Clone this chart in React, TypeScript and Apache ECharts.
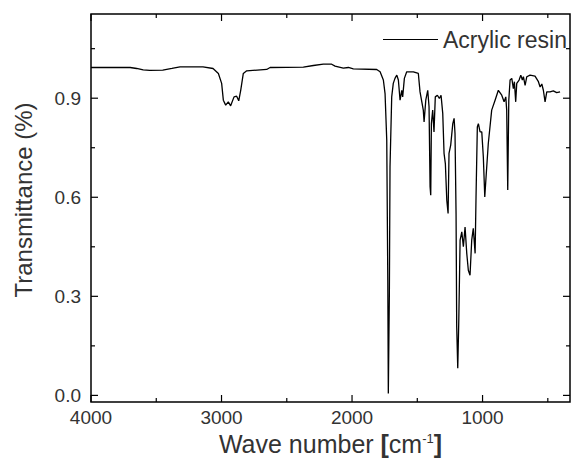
import React, { useEffect, useRef } from "react";
import * as echarts from "echarts";

const seriesName = "Acrylic resin";

const wavenumbers = [
  4000, 3700, 3650, 3600, 3550, 3450, 3380, 3318, 3142, 3065,
  3024, 2999, 2986, 2968, 2948, 2930, 2904, 2884, 2868, 2853,
  2833, 2807, 2654, 2628, 2373, 2296, 2220, 2156, 2130, 2067,
  2028, 1990, 1811, 1785, 1760, 1747, 1734, 1726, 1722, 1714,
  1709, 1696, 1684, 1671, 1657, 1645, 1632, 1619, 1612, 1599,
  1581, 1530, 1492, 1479, 1454, 1448, 1435, 1420, 1410, 1402,
  1397, 1392, 1382, 1372, 1362, 1346, 1331, 1318, 1305, 1295,
  1285, 1274, 1264, 1257, 1244, 1228, 1218, 1211, 1203, 1198,
  1190, 1182, 1172, 1159, 1147, 1134, 1121, 1109, 1096, 1083,
  1071, 1057, 1050, 1040, 1032, 1019, 1006, 994, 983, 973,
  956, 930, 904, 879, 853, 835, 822, 815, 807, 799,
  789, 776, 764, 756, 746, 738, 720, 707, 695, 687,
  674, 661, 636, 598, 572, 559, 546, 534, 521, 508,
  483, 458, 432, 406,
];

const transmittance = [
  0.993, 0.993, 0.99, 0.986, 0.984, 0.985, 0.99, 0.995, 0.995, 0.99,
  0.975, 0.945, 0.894, 0.879, 0.889, 0.877, 0.904, 0.906, 0.892, 0.924,
  0.975, 0.983, 0.987, 0.993, 0.994, 0.999, 1.003, 1.003, 0.997, 0.991,
  0.993, 0.989, 0.987, 0.98, 0.955, 0.914, 0.773, 0.349, 0.006, 0.309,
  0.692, 0.904, 0.945, 0.96, 0.97, 0.955, 0.894, 0.924, 0.904, 0.96,
  0.98, 0.98, 0.975, 0.919, 0.864, 0.828, 0.894, 0.924, 0.874, 0.632,
  0.606, 0.823, 0.864, 0.798, 0.904, 0.909, 0.899, 0.909, 0.854, 0.733,
  0.702, 0.591, 0.551, 0.733, 0.758, 0.823, 0.839, 0.793, 0.551, 0.208,
  0.082, 0.228, 0.47, 0.495, 0.45, 0.51, 0.43, 0.379, 0.364, 0.47,
  0.506, 0.43, 0.601, 0.813, 0.823, 0.798, 0.798, 0.722, 0.601, 0.662,
  0.763, 0.864, 0.894, 0.924, 0.909, 0.889, 0.904, 0.864, 0.622, 0.894,
  0.955, 0.96, 0.929, 0.95, 0.889, 0.945, 0.955, 0.97, 0.955, 0.965,
  0.939, 0.965, 0.97, 0.967, 0.95, 0.934, 0.943, 0.924, 0.889, 0.919,
  0.919, 0.922, 0.917, 0.919,
];

const xMajorTicks = [4000, 3000, 2000, 1000];
const xMinorTicks = [3500, 2500, 1500, 500];
const yMajorTicks = [0, 0.3, 0.6, 0.9];
const yMinorTicks = [0.15, 0.45, 0.75, 1.05];

const X_MIN = 330;
const X_MAX = 4000;
const Y_MIN = -0.02;
const Y_MAX = 1.155;

const MAJOR_LEN = 7;
const MINOR_LEN = 4;

const FONT = "'Liberation Sans', Arial, sans-serif";
const TEXT_COLOR = "#333";

export default function App() {
  const ref = useRef<HTMLDivElement>(null);

  useEffect(() => {
    if (!ref.current) return;
    const chart = echarts.init(ref.current, undefined, { renderer: "svg" });
    const data = wavenumbers.map((w, i) => [w, transmittance[i]]);

    chart.setOption({
      animation: false,
      backgroundColor: "#fff",
      grid: {
        left: 91,
        right: 1,
        top: 14,
        bottom: 67,
        containLabel: false,
        show: true,
        borderColor: "#000",
        borderWidth: 1.5,
        backgroundColor: "transparent",
      },
      legend: {
        data: [{ name: seriesName, icon: "rect" }],
        left: 383,
        top: 28,
        padding: 0,
        itemWidth: 55,
        itemHeight: 1.2,
        itemStyle: { color: "#000" },
        textStyle: { fontSize: 23, color: TEXT_COLOR, fontFamily: FONT },
      },
      xAxis: {
        type: "value",
        position: "bottom",
        min: X_MIN,
        max: X_MAX,
        inverse: true,
        axisLine: { show: false, onZero: false },
        axisTick: { show: false },
        axisLabel: {
          customValues: xMajorTicks,
          margin: 6,
          fontSize: 19,
          color: TEXT_COLOR,
          fontFamily: FONT,
          formatter: (v: number) => String(v),
        },
        splitLine: { show: false },
        name: "Wave number {b|[}cm{sup|-1}{b|]}",
        nameLocation: "middle",
        nameGap: 22,
        nameTextStyle: {
          fontSize: 25,
          color: TEXT_COLOR,
          fontFamily: FONT,
          rich: {
            b: { fontSize: 25, fontWeight: "bold", color: TEXT_COLOR, fontFamily: FONT },
            sup: { fontSize: 13, verticalAlign: "top", color: TEXT_COLOR, fontFamily: FONT },
          },
        },
      },
      yAxis: {
        type: "value",
        position: "left",
        min: Y_MIN,
        max: Y_MAX,
        axisLine: { show: false, onZero: false },
        axisTick: { show: false },
        axisLabel: {
          customValues: yMajorTicks,
          margin: 10,
          fontSize: 19,
          color: TEXT_COLOR,
          fontFamily: FONT,
          formatter: (v: number) => v.toFixed(1),
        },
        splitLine: { show: false },
        name: "Transmittance (%)",
        nameLocation: "middle",
        nameGap: 56,
        nameRotate: 90,
        nameTextStyle: {
          fontSize: 24,
          color: TEXT_COLOR,
          fontFamily: FONT,
          padding: [0, 0, 0, 16],
        },
      },
      series: [
        {
          name: seriesName,
          type: "line",
          data,
          symbol: "none",
          showSymbol: false,
          lineStyle: { color: "#000", width: 1.3 },
          itemStyle: { color: "#000" },
          z: 3,
        },
      ],
    });

    // Tick lengths in data units, taken from the chart's own scales.
    const fromPx = (px: number, py: number) =>
      chart.convertFromPixel({ gridIndex: 0 }, [px, py]) as number[];
    const toPx = (x: number, y: number) =>
      chart.convertToPixel({ gridIndex: 0 }, [x, y]) as number[];
    const origin = toPx(X_MAX, Y_MIN);
    const dyOf = (len: number) => fromPx(origin[0], origin[1] - len)[1] - Y_MIN;
    const dxOf = (len: number) => X_MAX - fromPx(origin[0] + len, origin[1])[0];

    const tickSeries: any[] = [];
    const pushTick = (pts: number[][]) => {
      tickSeries.push({
        name: "tick" + tickSeries.length,
        type: "line",
        data: pts,
        symbol: "none",
        silent: true,
        clip: false,
        z: 5,
        lineStyle: { color: "#000", width: 1.2 },
        itemStyle: { color: "#000" },
        emphasis: { disabled: true },
        tooltip: { show: false },
      });
    };
    const addX = (v: number, len: number) => {
      const dy = dyOf(len);
      pushTick([[v, Y_MIN], [v, Y_MIN + dy]]);
      pushTick([[v, Y_MAX], [v, Y_MAX - dy]]);
    };
    const addY = (v: number, len: number) => {
      const dx = dxOf(len);
      pushTick([[X_MAX, v], [X_MAX - dx, v]]);
      pushTick([[X_MIN, v], [X_MIN + dx, v]]);
    };
    xMajorTicks.forEach((v) => addX(v, MAJOR_LEN));
    xMinorTicks.forEach((v) => addX(v, MINOR_LEN));
    yMajorTicks.forEach((v) => addY(v, MAJOR_LEN));
    yMinorTicks.forEach((v) => addY(v, MINOR_LEN));

    chart.setOption({
      series: [
        {
          name: seriesName,
          type: "line",
          data,
          symbol: "none",
          showSymbol: false,
          lineStyle: { color: "#000", width: 1.3 },
          itemStyle: { color: "#000" },
          z: 3,
        },
        ...tickSeries,
      ],
    });

    return () => chart.dispose();
  }, []);

  return (
    <div
      ref={ref}
      style={{ position: "fixed", left: 0, top: 0, width: 571, height: 469, background: "#fff" }}
    />
  );
}
